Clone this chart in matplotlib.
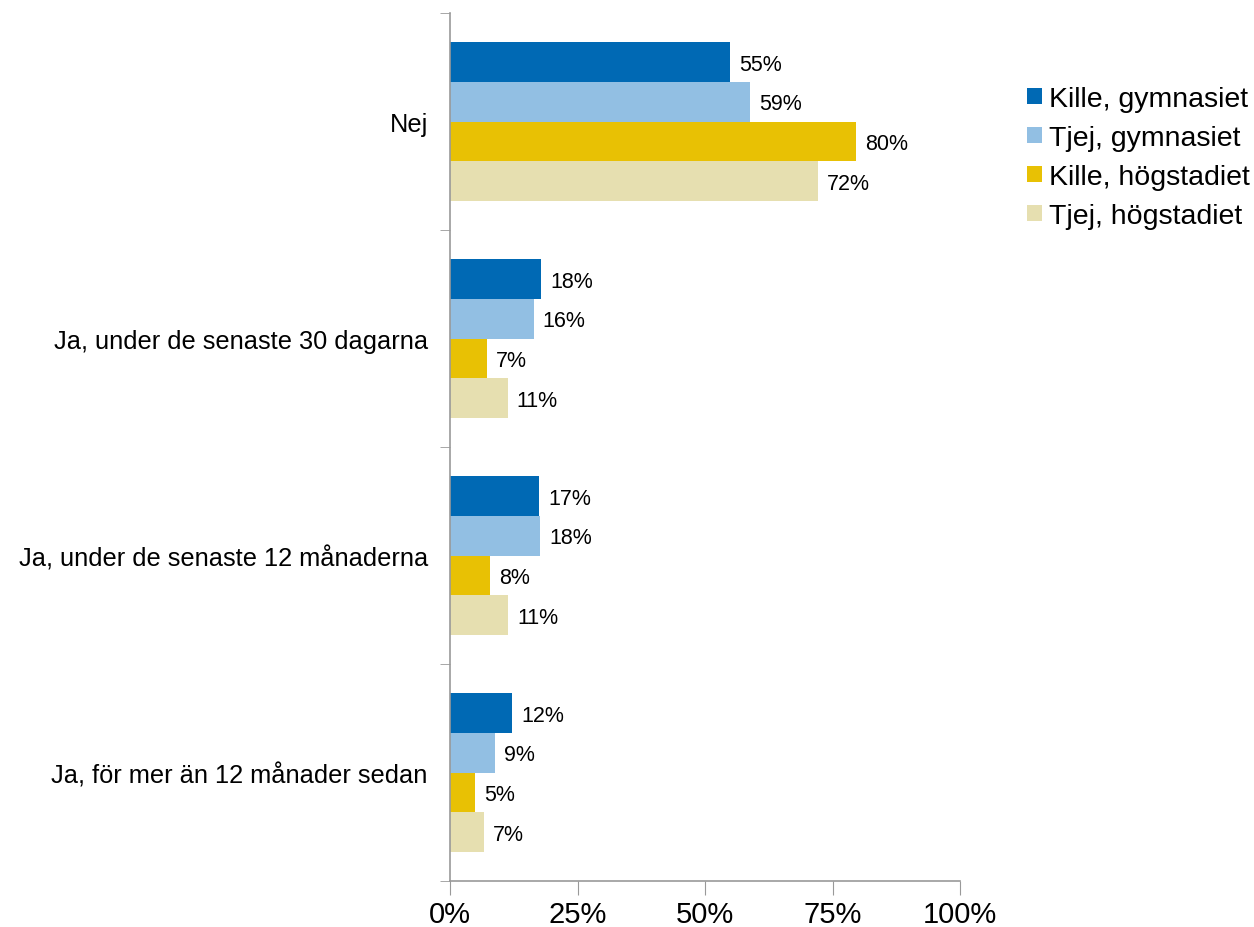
import matplotlib
matplotlib.use('Agg')
import matplotlib.pyplot as plt
import numpy as np

plt.rcParams['font.family'] = ['Liberation Sans', 'DejaVu Sans']

categories = ['Nej', 'Ja, under de senaste 30 dagarna',
              'Ja, under de senaste 12 månaderna', 'Ja, för mer än 12 månader sedan']
series = ['Kille, gymnasiet', 'Tjej, gymnasiet', 'Kille, högstadiet', 'Tjej, högstadiet']
colors = ['#0069B4', '#92BFE3', '#E8C104', '#E6DFB0']

# percent values per series, one value per category
kille_gym = [54.9, 17.8, 17.4, 12.2]
tjej_gym = [58.8, 16.4, 17.6, 8.8]
kille_hog = [79.6, 7.2, 7.8, 4.9]
tjej_hog = [72.1, 11.3, 11.4, 6.6]
values = [kille_gym, tjej_gym, kille_hog, tjej_hog]

fig = plt.figure(figsize=(12.54, 9.28), dpi=100)
ax = fig.add_axes([450/1254, 1-882/928, 510/1254, 868/928])

y = np.arange(len(categories))
h = 0.183
for i, (name, vals, c) in enumerate(zip(series, values, colors)):
    pos = y + (i - 1.5) * h
    ax.barh(pos, vals, height=h, color=c, label=name)
    for p, v in zip(pos, vals):
        ax.text(v + 1.8, p + 0.01, f'{v:.0f}%', va='center', ha='left', fontsize=15.5)

ax.set_xlim(0, 100)
ax.set_ylim(3.5, -0.5)
ax.set_xticks([0, 25, 50, 75, 100])
ax.set_xticklabels(['0%', '25%', '50%', '75%', '100%'], fontsize=21)
ax.set_yticks(y)
ax.set_yticklabels(categories, fontsize=18.3)
ax.set_yticks(np.arange(-0.5, 4.0, 1.0), minor=True)
ax.tick_params(axis='y', which='major', length=0, pad=16)
ax.tick_params(axis='y', which='minor', length=7, color='#999999')
ax.tick_params(axis='x', length=10, color='#999999', pad=4)

for s in ['top', 'right']:
    ax.spines[s].set_visible(False)
for s in ['left', 'bottom']:
    ax.spines[s].set_color('#999999')
    ax.spines[s].set_linewidth(1.2)

fig.legend(loc='upper left', bbox_to_anchor=(1016/1254, 1-76/928), frameon=False,
           fontsize=20.5, handlelength=0.5, handleheight=0.5, handletextpad=0.25,
           labelspacing=0.45, borderaxespad=0)

fig.savefig('out.png', dpi=100)
